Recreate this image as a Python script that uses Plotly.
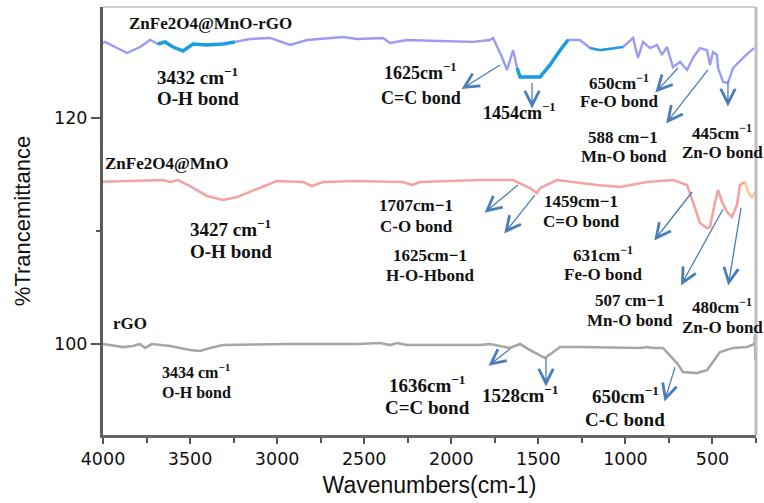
import numpy as np
import plotly.graph_objects as go

# ---------------- spectra ----------------
# ZnFe2O4@MnO-rGO
rgo_comp_wn = [4000, 3989, 3862, 3787, 3730, 3684, 3644, 3598, 3541, 3483, 3403, 3311, 3242,
               3156, 3041, 2926, 2828, 2622, 2541, 2392, 2352, 2254, 2065, 1875, 1778, 1760,
               1709, 1680, 1645, 1622, 1605, 1490, 1433, 1375, 1330, 1261, 1203, 1146, 1014,
               956, 928, 899, 859, 818, 790, 761, 727, 686, 646, 612, 572, 531, 514, 497, 474,
               468, 439, 411, 382, 325, 262]
rgo_comp_t = [126.6, 126.73, 125.75, 126.28, 126.9, 126.55, 126.73, 126.28, 125.93, 126.55,
              126.46, 126.55, 126.73, 126.99, 127.08, 126.46, 126.9, 127.17, 126.99, 127.08,
              126.64, 126.9, 126.81, 126.73, 126.9, 127.08, 125.4, 124.25, 126.0, 124.42,
              123.63, 123.63, 124.69, 126.0, 126.9, 126.9, 126.19, 126.0, 126.28, 127.08,
              125.31, 126.73, 126.19, 126.46, 125.58, 126.28, 124.51, 124.96, 124.25, 125.31,
              126.19, 126.0, 124.69, 125.84, 125.58, 124.42, 123.19, 123.1, 124.42, 125.31,
              126.19]
# emphasised bands of the composite trace (wavenumber windows, widths)
rgo_comp_bands = [(3684, 3242, 3.5), (1622, 1330, 3.5), (1203, 1014, 2.2)]

# ZnFe2O4@MnO
comp_wn = [4000, 3885, 3655, 3615, 3569, 3500, 3403, 3311, 3230, 3116, 3001, 2851, 2800, 2737,
           2541, 2277, 2225, 2180, 1967, 1835, 1645, 1548, 1508, 1490, 1393, 1261, 1163, 1031,
           876, 727, 646, 612, 572, 531, 514, 485, 468, 445, 416, 388, 359, 342, 313]
comp_t = [114.36, 114.42, 114.51, 114.34, 114.51, 113.98, 113.1, 112.74, 113.0, 113.72, 114.42,
          114.34, 113.98, 114.34, 114.42, 114.34, 114.07, 114.34, 114.42, 114.51, 114.51, 113.8,
          113.36, 113.8, 114.51, 114.25, 114.07, 113.89, 114.34, 114.51, 114.07, 112.57, 110.71,
          110.27, 110.35, 112.57, 113.63, 112.57, 111.68, 111.24, 112.3, 114.07, 114.34]
comp_tail_wn = [313, 296, 273, 255]
comp_tail_t = [114.34, 113.45, 113.0, 113.45]

# rGO
rgo_wn = [4000, 3885, 3828, 3787, 3759, 3719, 3615, 3500, 3443, 3385, 3311, 2926, 2541, 2409,
          2352, 2312, 2254, 1835, 1778, 1663, 1605, 1548, 1462, 1375, 1261, 1071, 916, 876,
          841, 784, 744, 704, 669, 589, 531, 497, 457, 382, 302, 273, 258, 256, 254]
rgo_t = [100.0, 99.73, 99.82, 100.0, 99.65, 100.0, 99.82, 99.47, 99.38, 99.65, 99.91, 100.0,
         100.0, 100.09, 99.91, 100.09, 99.91, 99.91, 100.0, 99.65, 100.0, 99.47, 98.76, 99.73,
         99.73, 99.65, 99.65, 99.73, 99.65, 99.65, 99.03, 98.32, 97.52, 97.43, 97.7, 98.41,
         99.29, 99.65, 99.73, 99.91, 100.0, 100.8, 98.6]

# ---------------- band assignments ----------------
SERIF = "Liberation Serif"
SUP = "<sup>−1</sup>"

# (text, wavenumber, %T, size, xanchor)
labels = [
    ("ZnFe2O4@MnO-rGO", 3385, 128.32, 17, "center"),
    ("3432 cm" + SUP, 3701, 123.75, 19, "left"),
    ("O-H bond", 3701, 121.73, 19, "left"),
    ("1625cm" + SUP, 2180, 124.1, 18, "center"),
    ("C=C bond", 2174, 121.77, 18, "center"),
    ("1454cm" + SUP, 1611, 120.56, 18, "center"),
    ("650cm" + SUP, 1037, 123.2, 17, "center"),
    ("Fe-O bond", 1037, 121.42, 17, "center"),
    ("588 cm−1", 1014, 118.23, 17, "center"),
    ("Mn-O bond", 1008, 116.55, 17, "center"),
    ("445cm" + SUP, 445, 118.79, 17, "center"),
    ("Zn-O bond", 445, 116.99, 17, "center"),

    ("ZnFe2O4@MnO", 3638, 115.93, 17, "center"),
    ("3427 cm" + SUP, 3512, 110.3, 19, "left"),
    ("O-H bond", 3512, 108.23, 19, "left"),
    ("1707cm−1", 2202, 112.30, 17, "center"),
    ("C-O bond", 2202, 110.44, 17, "center"),
    ("1625cm−1", 2122, 107.79, 17, "center"),
    ("H-O-Hbond", 2122, 106.02, 17, "center"),
    ("1459cm−1", 1255, 112.65, 17, "center"),
    ("C=O bond", 1255, 110.88, 17, "center"),
    ("631cm" + SUP, 1129, 108.0, 17, "center"),
    ("Fe-O bond", 1129, 106.19, 17, "center"),
    ("507 cm−1", 973, 103.89, 17, "center"),
    ("Mn-O bond", 973, 102.12, 17, "center"),
    ("480cm" + SUP, 445, 103.39, 17, "center"),
    ("Zn-O bond", 445, 101.50, 17, "center"),

    ("rGO", 3845, 101.86, 17, "center"),
    ("3434 cm" + SUP, 3673, 97.64, 16, "left"),
    ("O-H bond", 3673, 95.75, 16, "left"),
    ("1636cm" + SUP, 2139, 96.49, 19, "center"),
    ("C=C bond", 2139, 94.34, 19, "center"),
    ("1528cm" + SUP, 1605, 95.61, 19, "center"),
    ("650cm" + SUP, 1002, 95.52, 19, "center"),
    ("C-C bond", 1002, 93.36, 19, "center"),
]

# arrows: start on the band (wavenumber, %T), head offset in pixels (dx, dy)
arrows = [
    (1720, 124.69, -40, 25), (1536, 123.10, 0, 27), (698, 124.42, -24, 26),
    (526, 124.25, -43, 55), (411, 123.19, 0, 26),
    (1617, 114.07, -35, 29), (1519, 113.19, -32, 40), (617, 113.45, -39, 50),
    (439, 111.95, -43, 78), (336, 112.04, -13, 79),
    (1663, 99.56, -23, 18), (1456, 98.76, 0, 30), (715, 97.96, -11, 36),
]

fig = go.Figure()

fig.add_trace(go.Scatter(x=rgo_wn, y=rgo_t, mode="lines",
                         line=dict(color="rgba(150,150,150,0.85)", width=2.6),
                         name="rGO", showlegend=False))
fig.add_trace(go.Scatter(x=comp_wn, y=comp_t, mode="lines",
                         line=dict(color="rgba(240,140,140,0.8)", width=2.6),
                         name="ZnFe2O4@MnO", showlegend=False))
fig.add_trace(go.Scatter(x=comp_tail_wn, y=comp_tail_t, mode="lines",
                         line=dict(color="rgba(245,190,130,0.85)", width=2.4),
                         showlegend=False))
fig.add_trace(go.Scatter(x=rgo_comp_wn, y=rgo_comp_t, mode="lines",
                         line=dict(color="rgba(130,130,240,0.8)", width=2.4),
                         name="ZnFe2O4@MnO-rGO", showlegend=False))

wn_arr = np.array(rgo_comp_wn)
t_arr = np.array(rgo_comp_t)
for hi, lo, w in rgo_comp_bands:
    m = (wn_arr <= hi) & (wn_arr >= lo)
    fig.add_trace(go.Scatter(x=wn_arr[m], y=t_arr[m], mode="lines",
                             line=dict(color="#1a9ee0", width=w), showlegend=False))

annotations = []
for text, x, y, size, xa in labels:
    annotations.append(dict(x=x, y=y, xref="x", yref="y", text="<b>" + text + "</b>",
                            showarrow=False, xanchor=xa, yanchor="middle",
                            font=dict(family=SERIF, size=size, color="#111111")))
for x, y, dx, dy in arrows:
    annotations.append(dict(x=x, y=y, xref="x", yref="y", ax=dx, ay=dy, text="",
                            showarrow=True, arrowside="start", startarrowhead=5,
                            startarrowsize=2.2, arrowwidth=1.3, arrowcolor="#4a7ebb",
                            startstandoff=0, standoff=0))

fig.update_layout(
    width=764, height=503,
    margin=dict(l=103, r=8, t=7, b=68),
    paper_bgcolor="white", plot_bgcolor="white",
    annotations=annotations,
    shapes=[
        dict(type="line", xref="paper", yref="paper", x0=0, x1=1, y0=1, y1=1,
             line=dict(color="#cfcfcf", width=2)),
        dict(type="line", xref="paper", yref="paper", x0=1, x1=1, y0=0, y1=1,
             line=dict(color="#bdbdbd", width=3)),
    ],
)

fig.update_xaxes(
    range=[4000, 250], dtick=500, tick0=0,
    showline=True, linecolor="#666666", linewidth=2.5,
    ticks="outside", ticklen=6, tickwidth=2, tickcolor="#555555",
    minor=dict(dtick=250, tick0=0, ticks="outside", ticklen=5, tickwidth=2, tickcolor="#555555"),
    showgrid=False, zeroline=False,
    tickfont=dict(family="DejaVu Sans", size=17.5, color="#111111"),
    title=dict(text="Wavenumbers(cm-1)", standoff=10,
               font=dict(family="Liberation Sans", size=23, color="#111111")),
)
fig.update_yaxes(
    range=[91.95, 129.82], dtick=20, tick0=100,
    showline=True, linecolor="#5a5a5a", linewidth=3,
    ticks="outside", ticklen=9, tickwidth=2, tickcolor="#555555",
    minor=dict(dtick=10, tick0=100, ticks="outside", ticklen=4, tickwidth=2, tickcolor="#555555"),
    showgrid=False, zeroline=False,
    tickfont=dict(family="DejaVu Sans", size=17.5, color="#111111"),
    title=dict(text="%Trancemittance", standoff=18,
               font=dict(family="Liberation Sans", size=22, color="#111111")),
)

fig.write_html("out.html")
